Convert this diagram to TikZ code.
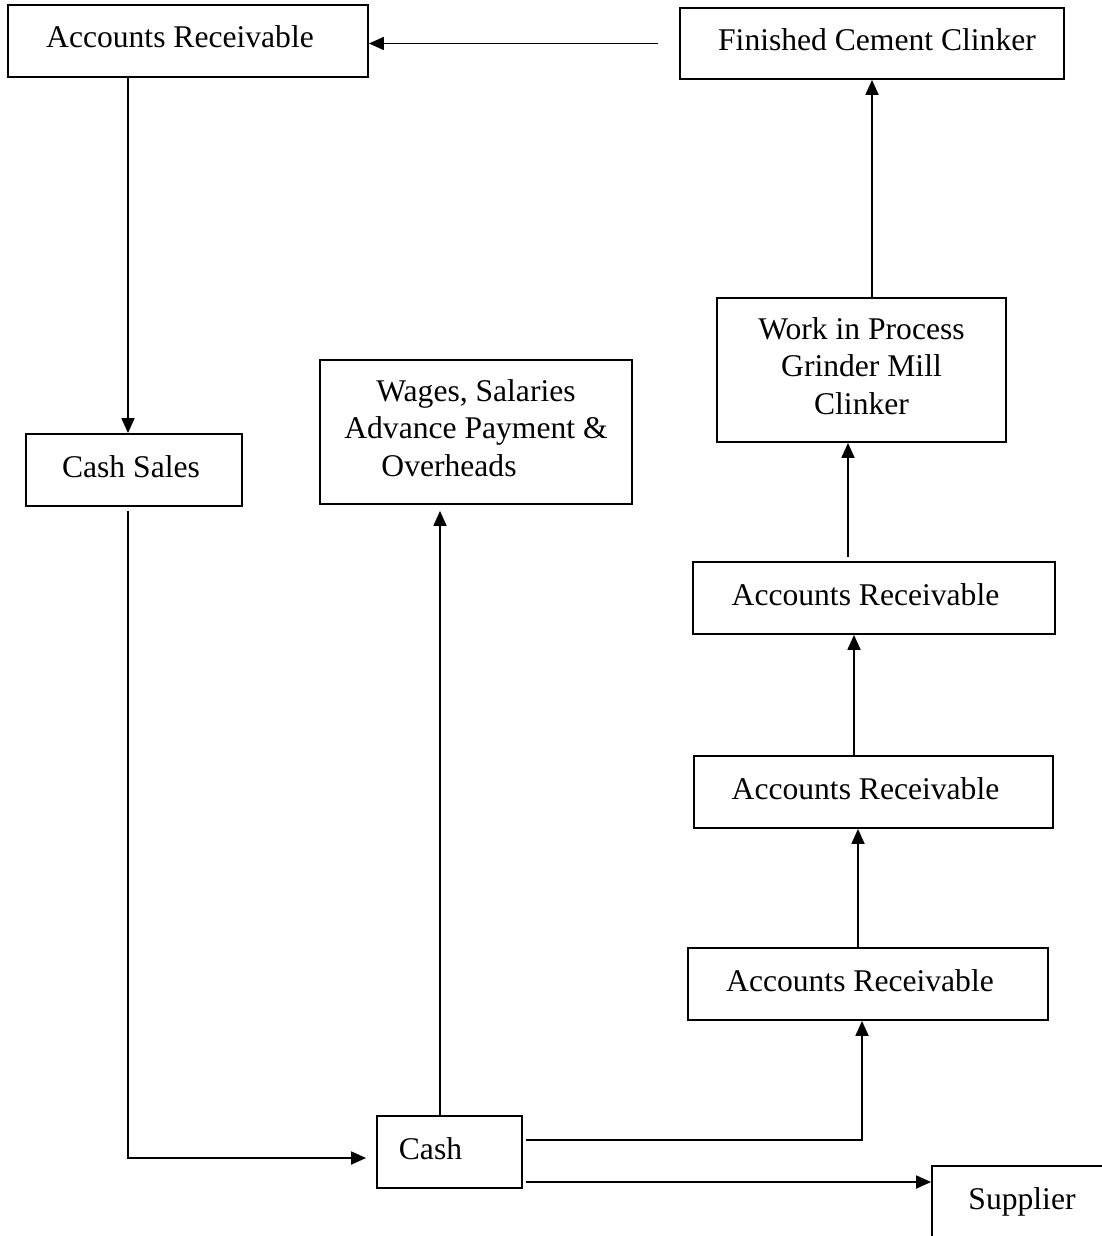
\documentclass[tikz,border=0pt]{standalone}
\usepackage{fontspec}
\setmainfont{Liberation Serif}
\usetikzlibrary{arrows.meta}
\begin{document}
\begin{tikzpicture}[x=1pt,y=-1pt,
  box/.style={draw, line width=1.8pt, inner sep=0pt, font=\fontsize{31.6}{37.5}\selectfont, text depth=8pt},
  onebox/.style={box, text height=22pt},
  arr/.style={line width=1.8pt, -{Triangle[length=15pt,width=13pt]}}]
\useasboundingbox (0,0) rectangle (1101,1236);
% boxes
\node[onebox, minimum width=360pt, minimum height=72pt] (ar1) at (188,41) {Accounts Receivable\kern16pt};
\node[onebox, minimum width=384pt, minimum height=71pt] (fcc) at (872,43.5) {\kern10pt Finished Cement Clinker};
\node[box, align=center, minimum width=289pt, minimum height=144pt] (wip) at (861.5,370) {Work in Process\\Grinder Mill\\Clinker};
\node[box, align=center, minimum width=312pt, minimum height=144pt] (wages) at (476,432) {Wages, Salaries\\Advance Payment \&\\Overheads\kern54pt};
\node[onebox, minimum width=216pt, minimum height=72pt] (cs) at (134,470) {Cash Sales\kern6pt};
\node[onebox, minimum width=362pt, minimum height=72pt] (ar2) at (874,598) {Accounts Receivable\kern17pt};
\node[onebox, minimum width=359pt, minimum height=72pt] (ar3) at (873.5,792) {Accounts Receivable\kern16pt};
\node[onebox, minimum width=360pt, minimum height=72pt] (ar4) at (868,984) {Accounts Receivable\kern16pt};
\node[onebox, minimum width=145pt, minimum height=72pt] (cash) at (449.5,1152) {Cash\kern38pt};
\node[onebox, minimum width=180pt, minimum height=72pt] (sup) at (1022,1202) {Supplier};
% helper coordinates
\coordinate (fccfree) at ([xshift=-21pt]fcc.west);
\coordinate (ar1out) at ([xshift=-60pt]ar1.south);
\coordinate (csout) at ([xshift=-6pt,yshift=-4pt]cs.south);
\coordinate (cashin) at ([xshift=-10pt,yshift=-6pt]cash.west);
\coordinate (cashup) at ([xshift=-9.5pt]cash.north);
\coordinate (wagesin) at ([yshift=-6pt]wages.south);
\coordinate (cashr1) at ([xshift=3pt,yshift=12pt]cash.east);
\coordinate (cashr2) at ([xshift=3pt,yshift=-30pt]cash.east);
\coordinate (ar4in) at ([xshift=-6pt]ar4.south);
\coordinate (ar4out) at ([xshift=-10pt]ar4.north);
\coordinate (ar3out) at ([xshift=-19.5pt]ar3.north);
\coordinate (ar2out) at ([xshift=-26pt,yshift=4pt]ar2.north);
% connectors
\draw[arr] (fccfree) -- (fccfree -| ar1.east);
\draw[arr] (wip.north -| fcc.south) -- (fcc.south);
\draw[arr] (ar2out) -- (ar2out |- wip.south);
\draw[arr] (ar3out) -- (ar3out |- ar2.south);
\draw[arr] (ar4out) -- (ar4out |- ar3.south);
\draw[arr] (cashr1) -| (ar4in);
\draw[arr] (cashr2) -- (cashr2 -| sup.west);
\draw[arr] (cashup) -- (cashup |- wagesin);
\draw[arr] (ar1out) -- (ar1out |- cs.north);
\draw[arr] (csout) |- (cashin);
\end{tikzpicture}
\end{document}
